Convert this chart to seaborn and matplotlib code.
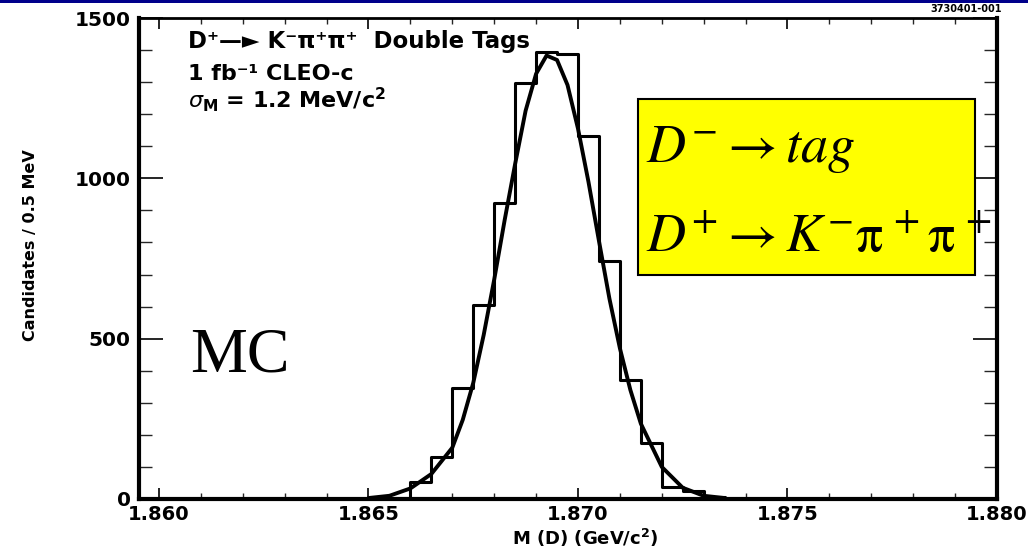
import numpy as np
import pandas as pd
import matplotlib
matplotlib.use("Agg")
import matplotlib.pyplot as plt
import seaborn as sns
from matplotlib.ticker import FixedLocator, MultipleLocator
from matplotlib.patches import Rectangle

# ---------------- data ----------------
bin_low = [1.8655, 1.8660, 1.8665, 1.8670, 1.8675, 1.8680, 1.8685, 1.8690,
           1.8695, 1.8700, 1.8705, 1.8710, 1.8715, 1.8720, 1.8725, 1.8730]
counts = [4, 53, 131, 346, 605, 923, 1297, 1394,
          1388, 1132, 742, 371, 175, 37, 25, 7]
bin_width = 0.0005

fit_mass = [1.8650, 1.8655, 1.8660, 1.8665, 1.8670, 1.86725, 1.8675, 1.86775,
            1.8680, 1.86825, 1.8685, 1.86875, 1.8690, 1.86925, 1.8695, 1.86975,
            1.8700, 1.87025, 1.8705, 1.87075, 1.8710, 1.87125, 1.8715, 1.8720,
            1.8725, 1.8730, 1.8735]
fit_counts = [3, 10, 33, 78, 160, 247, 362, 512,
              684, 870, 1045, 1211, 1326, 1383, 1369, 1291,
              1155, 989, 805, 625, 470, 340, 235, 100,
              35, 10, 3]

x_ticks = [1.860, 1.865, 1.870, 1.875, 1.880]
x_tick_labels = ["1.860", "1.865", "1.870", "1.875", "1.880"]
y_ticks = [0, 500, 1000, 1500]
y_tick_labels = ["0", "500", "1000", "1500"]

# ---------------- style ----------------
sns.set_theme(style="ticks")
plt.rcParams["font.family"] = ["DejaVu Sans"]
plt.rcParams["font.weight"] = "normal"
plt.rcParams["text.color"] = "black"
plt.rcParams["axes.labelcolor"] = "black"
plt.rcParams["mathtext.fontset"] = "dejavusans"

W, H = 1028, 549
fig = plt.figure(figsize=(W / 100, H / 100), dpi=100)
fig.patch.set_facecolor("white")


def fx(px):
    return px / W


def fy(py):
    return 1 - py / H


ax = fig.add_axes([fx(139), fy(499), fx(997) - fx(139), fy(18) - fy(499)])
ax.set_facecolor("white")

df = pd.DataFrame({"mass": np.array(bin_low) + bin_width / 2, "n": counts})
edges = list(bin_low) + [bin_low[-1] + bin_width]
sns.histplot(data=df, x="mass", weights="n", bins=edges, element="step",
             fill=False, color="black", linewidth=2.2, ax=ax)

fit_df = pd.DataFrame({"mass": fit_mass, "n": fit_counts})
sns.lineplot(data=fit_df, x="mass", y="n", color="black", linewidth=2.8, ax=ax)

ax.set_xlim(1.859523, 1.880)
ax.set_ylim(0, 1500)
ax.set_xlabel("")
ax.set_ylabel("")

ax.xaxis.set_major_locator(FixedLocator(x_ticks))
ax.set_xticklabels(x_tick_labels)
ax.xaxis.set_minor_locator(MultipleLocator(0.001))
ax.yaxis.set_major_locator(FixedLocator(y_ticks))
ax.set_yticklabels(y_tick_labels)
ax.yaxis.set_minor_locator(MultipleLocator(100))

ax.tick_params(axis="x", which="major", direction="in", length=8, width=1.2,
               top=True, bottom=True, labelsize=14, pad=4, colors="black")
ax.tick_params(axis="x", which="minor", direction="in", length=4, width=1.0,
               top=True, bottom=True)
ax.tick_params(axis="y", which="major", direction="in", length=17, width=1.2,
               left=True, right=True, labelsize=14.5, pad=6, colors="black")
ax.tick_params(axis="y", which="minor", direction="in", length=9.5, width=1.0,
               left=True, right=True)
for lab in ax.get_xticklabels() + ax.get_yticklabels():
    lab.set_fontweight("bold")

ax.spines["left"].set_linewidth(3)
ax.spines["bottom"].set_linewidth(3)
ax.spines["right"].set_linewidth(3)
ax.spines["top"].set_linewidth(2)
for s in ax.spines.values():
    s.set_color("black")

# axis titles
fig.text(fx(31), fy(245), "Candidates / 0.5 MeV", rotation=90, ha="center",
         va="center", fontsize=11.5, fontweight="bold")
fig.text(fx(585), fy(538), r"M (D) (GeV/c$^{\mathbf{2}}$)", ha="center",
         va="center", fontsize=13, fontweight="bold")

# annotations inside the frame
fig.text(fx(188), fy(48), "D\u207a\u2014\u25ba K\u207b\u03c0\u207a\u03c0\u207a  Double Tags",
         ha="left", va="baseline", fontsize=16.5, fontweight="bold")
fig.text(fx(188), fy(80), "1 fb\u207b\u00b9 CLEO-c", ha="left", va="baseline",
         fontsize=16, fontweight="bold")
fig.text(fx(188), fy(108), r"$\mathit{\sigma}_{\mathbf{M}}$ = 1.2 MeV/c$^{\mathbf{2}}$",
         ha="left", va="baseline", fontsize=16, fontweight="bold")

fig.text(fx(190), fy(372), "MC", ha="left", va="baseline", fontsize=46,
         family="Liberation Serif", fontweight="normal", color="black")

# yellow box
fig.patches.append(Rectangle((fx(638), fy(275)), fx(975) - fx(638), fy(99) - fy(275),
                             transform=fig.transFigure, facecolor="#ffff00",
                             edgecolor="black", linewidth=1.5, zorder=5))
fig.text(fx(646), fy(162), r"$D^{-}\rightarrow tag$", ha="left", va="baseline",
         fontsize=39, math_fontfamily="stix", fontweight="normal", zorder=6)
fig.text(fx(646), fy(252), r"$D^{+}\rightarrow K^{-}\mathrm{\pi}^{\,+}\mathrm{\pi}^{\,+}$",
         ha="left", va="baseline", fontsize=39, math_fontfamily="stix",
         fontweight="normal", zorder=6)

# slide decorations
fig.text(fx(930), fy(12), "3730401-001", ha="left", va="baseline", fontsize=7,
         fontweight="bold")
fig.patches.append(Rectangle((0, fy(3)), 1, fy(0) - fy(3), transform=fig.transFigure,
                             facecolor="#00008b", edgecolor="none", zorder=7))

fig.savefig("out.png", dpi=100)
